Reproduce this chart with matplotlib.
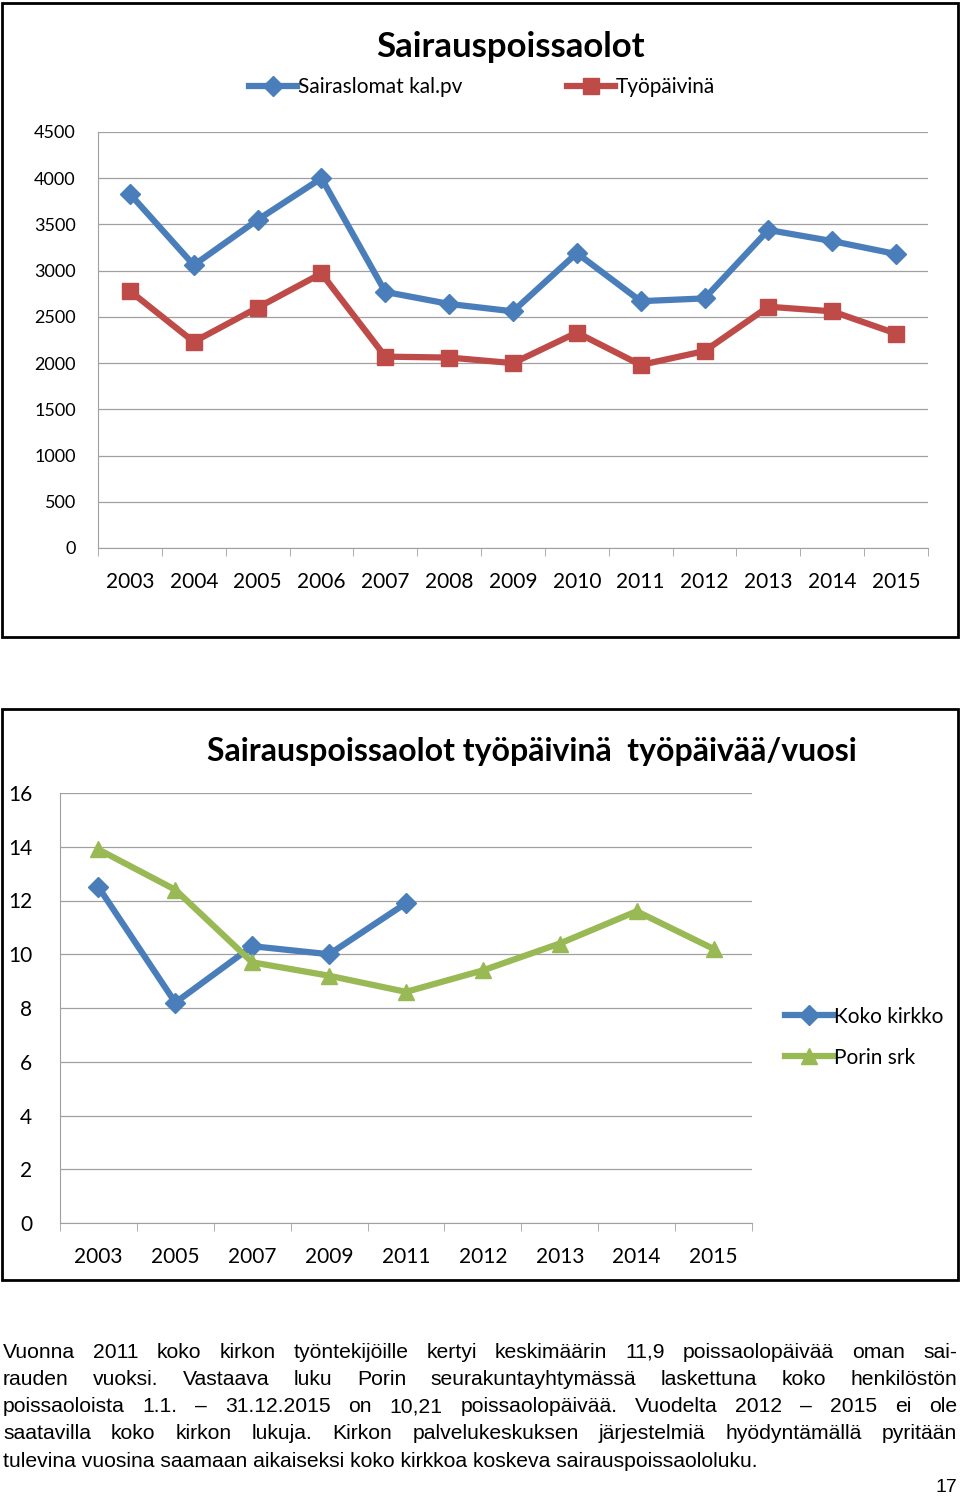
import matplotlib.pyplot as plt
from matplotlib.patches import Rectangle
import numpy as np

years1 = ['2003', '2004', '2005', '2006', '2007', '2008', '2009', '2010',
          '2011', '2012', '2013', '2014', '2015']
sairaslomat = [3830, 3060, 3550, 4000, 2770, 2640, 2560, 3190, 2670, 2700, 3440, 3320, 3180]
tyopaivina = [2780, 2230, 2600, 2970, 2070, 2060, 2000, 2330, 1980, 2130, 2610, 2560, 2320]

years2 = ['2003', '2005', '2007', '2009', '2011', '2012', '2013', '2014', '2015']
koko_kirkko = [12.5, 8.2, 10.3, 10.0, 11.9]
porin_srk = [13.9, 12.4, 9.7, 9.2, 8.6, 9.4, 10.4, 11.6, 10.2]

BLUE = '#4a7ebb'
RED = '#be4b48'
GREEN = '#98b954'
FONT = 'Lato'

W, H = 960, 1497
fig = plt.figure(figsize=(W / 100, H / 100), dpi=100)


def fx(x):
    return x / W


def fy(y):
    return 1 - y / H


# chart frames
for y0, y1 in [(3, 637), (709, 1280)]:
    fig.patches.append(Rectangle((fx(2), fy(y1)), fx(956), (y1 - y0) / H,
                                 transform=fig.transFigure, fill=False,
                                 edgecolor='black', linewidth=2))


def style(ax, n):
    ax.set_xlim(-0.5, n - 0.5)
    ax.yaxis.grid(True, color='#a0a0a0', linewidth=0.9)
    ax.set_axisbelow(True)
    for s in ['top', 'right']:
        ax.spines[s].set_visible(False)
    ax.spines['left'].set_color('#a0a0a0')
    ax.spines['bottom'].set_color('#a0a0a0')
    ax.set_xticks(np.arange(n))
    ax.set_xticks(np.arange(n + 1) - 0.5, minor=True)
    ax.tick_params(axis='x', which='major', length=0, pad=17)
    ax.tick_params(axis='x', which='minor', length=6, color='#a0a0a0')
    ax.tick_params(axis='y', length=6, color='#a0a0a0', pad=16)
    for lab in ax.get_xticklabels() + ax.get_yticklabels():
        lab.set_fontfamily(FONT)


# chart 1
ax1 = fig.add_axes([fx(98), fy(548), fx(830), 416 / H])
x1 = np.arange(len(years1))
ax1.plot(x1, sairaslomat, color=BLUE, linewidth=4.5, marker='D', markersize=10,
         label='Sairaslomat kal.pv')
ax1.plot(x1, tyopaivina, color=RED, linewidth=4.5, marker='s', markersize=12,
         label='Työpäivinä')
ax1.set_ylim(0, 4500)
ax1.set_yticks(range(0, 4501, 500))
ax1.set_xticklabels(years1)
style(ax1, len(years1))
ax1.tick_params(axis='x', labelsize=15)
ax1.tick_params(axis='y', labelsize=13, length=0)
fig.text(fx(510), fy(47), 'Sairauspoissaolot', ha='center', va='center',
         fontsize=25, fontweight='bold', fontfamily=FONT)
ax1.legend(loc='center', bbox_to_anchor=(fx(482), fy(87)),
           bbox_transform=fig.transFigure, ncol=2, frameon=False,
           prop={'family': FONT, 'size': 15}, columnspacing=5,
           handlelength=2.3, handletextpad=0.05)

# chart 2
ax2 = fig.add_axes([fx(60), fy(1223), fx(692), 430 / H])
ax2.plot(np.arange(len(koko_kirkko)), koko_kirkko, color=BLUE, linewidth=4.5,
         marker='D', markersize=10, label='Koko kirkko')
ax2.plot(np.arange(len(porin_srk)), porin_srk, color=GREEN, linewidth=4.5,
         marker='^', markersize=12, label='Porin srk')
ax2.set_ylim(0, 16)
ax2.set_yticks(range(0, 17, 2))
ax2.set_xticklabels(years2)
style(ax2, len(years2))
ax2.tick_params(axis='x', labelsize=15)
ax2.tick_params(axis='y', labelsize=15, length=0, pad=20)
fig.text(fx(532), fy(752), 'Sairauspoissaolot työpäivinä  työpäivää/vuosi',
         ha='center', va='center', fontsize=23, fontweight='bold', fontfamily=FONT)
ax2.legend(loc='upper left', bbox_to_anchor=(fx(766), fy(988)),
           bbox_transform=fig.transFigure, frameon=False,
           prop={'family': FONT, 'size': 15}, handlelength=2.3,
           handletextpad=0.05, labelspacing=1.0)

# body text, justified except the last line
lines = [
    'Vuonna 2011 koko kirkon työntekijöille kertyi keskimäärin 11,9 poissaolopäivää oman sai-',
    'rauden vuoksi. Vastaava luku Porin seurakuntayhtymässä laskettuna koko henkilöstön',
    'poissaoloista 1.1. – 31.12.2015 on 10,21 poissaolopäivää. Vuodelta 2012 – 2015 ei ole',
    'saatavilla koko kirkon lukuja. Kirkon palvelukeskuksen järjestelmiä hyödyntämällä pyritään',
    'tulevina vuosina saamaan aikaiseksi koko kirkkoa koskeva sairauspoissaololuku.',
]
renderer = fig.canvas.get_renderer()
left, right = 3, 957
for i, line in enumerate(lines):
    y = fy(1352 + i * 27.3)
    words = line.split(' ')
    if i == len(lines) - 1:
        fig.text(fx(left), y, line, ha='left', va='center',
                 fontsize=15.2, fontfamily='Liberation Sans')
        continue
    objs = [fig.text(0, y, w, ha='left', va='center', fontsize=15.2,
                     fontfamily='Liberation Sans') for w in words]
    widths = [o.get_window_extent(renderer).width for o in objs]
    gap = (right - left - sum(widths)) / (len(words) - 1)
    x = left
    for o, w in zip(objs, widths):
        o.set_x(fx(x))
        x += w + gap
fig.text(fx(957), fy(1488), '17', ha='right', va='center', fontsize=14,
         fontfamily='Liberation Sans')

fig.savefig('out.png', dpi=100)
